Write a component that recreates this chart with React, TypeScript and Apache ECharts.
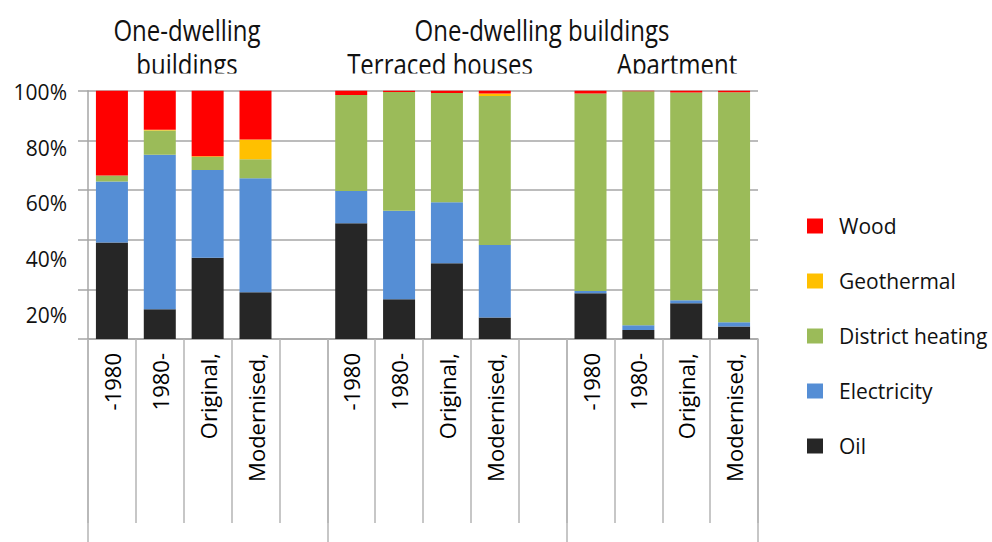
import React, { useEffect, useRef } from "react";
import * as echarts from "echarts";

const categories = [
  "-1980", "1980-", "Original,", "Modernised,", "",
  "-1980", "1980-", "Original,", "Modernised,", "",
  "-1980", "1980-", "Original,", "Modernised,",
];

// values in % (stacked bottom-up: Oil, Electricity, District heating, Geothermal, Wood)
const oil = [38.9, 12.0, 32.7, 18.8, null, 46.6, 16.0, 30.5, 8.7, null, 18.4, 3.6, 14.4, 5.0];
const electricity = [24.5, 62.2, 35.4, 45.9, null, 13.0, 35.7, 24.6, 29.2, null, 0.9, 1.9, 1.2, 1.7];
const districtHeating = [2.4, 9.8, 5.2, 7.7, null, 38.7, 47.8, 44.0, 60.0, null, 79.6, 94.3, 83.7, 92.7];
const geothermal = [0, 0.3, 0.3, 7.9, null, 0, 0, 0, 1.0, null, 0, 0, 0, 0];
const wood = [34.2, 15.7, 26.4, 19.7, null, 1.7, 0.5, 0.9, 1.1, null, 1.1, 0.2, 0.7, 0.6];

const yTicks = [0, 20, 40, 60, 80, 100];
const groupStarts = [0, 5, 10];

const seriesDefs = [
  { name: "Oil", data: oil, color: "#262626" },
  { name: "Electricity", data: electricity, color: "#558ed5" },
  { name: "District heating", data: districtHeating, color: "#9bbb59" },
  { name: "Geothermal", data: geothermal, color: "#ffc000" },
  { name: "Wood", data: wood, color: "#ff0000" },
];

const titleTexts = [
  { text: "One-dwelling", x: 187, y: 29 },
  { text: "buildings", x: 187, y: 63 },
  { text: "One-dwelling buildings", x: 542, y: 29 },
  { text: "Terraced houses", x: 440, y: 63 },
  { text: "Apartment", x: 677, y: 63 },
];

const FONT = '"Open Sans", "Noto Sans", sans-serif';

export default function App() {
  const ref = useRef<HTMLDivElement>(null);

  useEffect(() => {
    if (!ref.current) return;
    const chart = echarts.init(ref.current, null, { renderer: "svg" });
    const gridLeft = 88;
    const gridRight = 992 - 758;
    const option: any = {
      animation: false,
      backgroundColor: "#ffffff",
      textStyle: { fontFamily: FONT },
      grid: [
        { left: gridLeft, right: gridRight, top: 90.7, height: 248.3, containLabel: false, outerBoundsMode: "none" },
        { left: gridLeft, right: gridRight, top: 91.7, height: 279, containLabel: false, outerBoundsMode: "none" },
      ],
      xAxis: [
        {
          type: "category",
          gridIndex: 0,
          data: categories,
          position: "bottom",
          axisLine: { show: true, lineStyle: { color: "#a6a6a6", width: 1.5 } },
          axisTick: { show: true, interval: 0, length: 184, lineStyle: { color: "#b4b4b4", width: 1.5 } },
          axisLabel: {
            interval: 0,
            rotate: 90,
            margin: 14,
            fontSize: 22,
            color: "#000000",
            fontFamily: FONT,
          },
          splitLine: { show: false },
        },
        {
          type: "category",
          gridIndex: 0,
          data: categories,
          position: "bottom",
          axisLine: { show: false },
          axisTick: {
            show: true,
            length: 210,
            interval: (i: number) => groupStarts.includes(i),
            lineStyle: { color: "#b4b4b4", width: 1.5 },
          },
          axisLabel: { show: false },
          splitLine: { show: false },
        },
        { type: "value", gridIndex: 1, show: false, min: 0, max: 1 },
      ],
      yAxis: [
        {
          type: "value",
          gridIndex: 0,
          min: yTicks[0],
          max: yTicks[yTicks.length - 1],
          interval: 20,
          axisLine: { show: true, lineStyle: { color: "#a6a6a6", width: 1.5 } },
          axisTick: { show: true, length: 10, lineStyle: { color: "#a6a6a6", width: 1.5 } },
          axisLabel: { show: false },
          splitLine: { show: true, lineStyle: { color: "#a6a6a6", width: 1.5 } },
        },
        {
          type: "value",
          gridIndex: 1,
          min: yTicks[0],
          max: yTicks[yTicks.length - 1],
          interval: 20,
          axisLine: { show: false },
          axisTick: { show: false },
          splitLine: { show: false },
          axisLabel: {
            margin: 21,
            fontSize: 21,
            color: "#111111",
            fontFamily: FONT,
            formatter: (v: number) => (v === 0 ? "" : `${v}%`),
          },
        },
      ],
      legend: {
        orient: "vertical",
        left: 802,
        top: 209,
        itemWidth: 16,
        itemHeight: 15,
        itemGap: 31,
        icon: "rect",
        data: ["Wood", "Geothermal", "District heating", "Electricity", "Oil"],
        textStyle: {
          fontSize: 21,
          lineHeight: 24,
          color: "#111111",
          fontFamily: FONT,
          padding: [0, 0, 0, 11],
        },
      },
      series: seriesDefs.map((s) => ({
        name: s.name,
        type: "bar",
        stack: "total",
        xAxisIndex: 0,
        yAxisIndex: 0,
        barWidth: 32,
        data: s.data,
        itemStyle: { color: s.color },
      })),
      graphic: [
        ...titleTexts.map((t) => ({
          type: "text",
          x: t.x,
          y: t.y,
          scaleY: 1.25,
          style: {
            text: t.text,
            x: 0,
            y: 0,
            font: `24px ${FONT}`,
            fill: "#111111",
            textAlign: "center",
            textVerticalAlign: "middle",
          },
        })),
        {
          type: "rect",
          shape: { x: 90, y: 73.5, width: 680, height: 12 },
          style: { fill: "#ffffff" },
        },
      ],
    };
    chart.setOption(option);
    return () => chart.dispose();
  }, []);

  return (
    <div
      ref={ref}
      style={{ position: "fixed", left: 0, top: 0, width: 992, height: 542 }}
    />
  );
}
